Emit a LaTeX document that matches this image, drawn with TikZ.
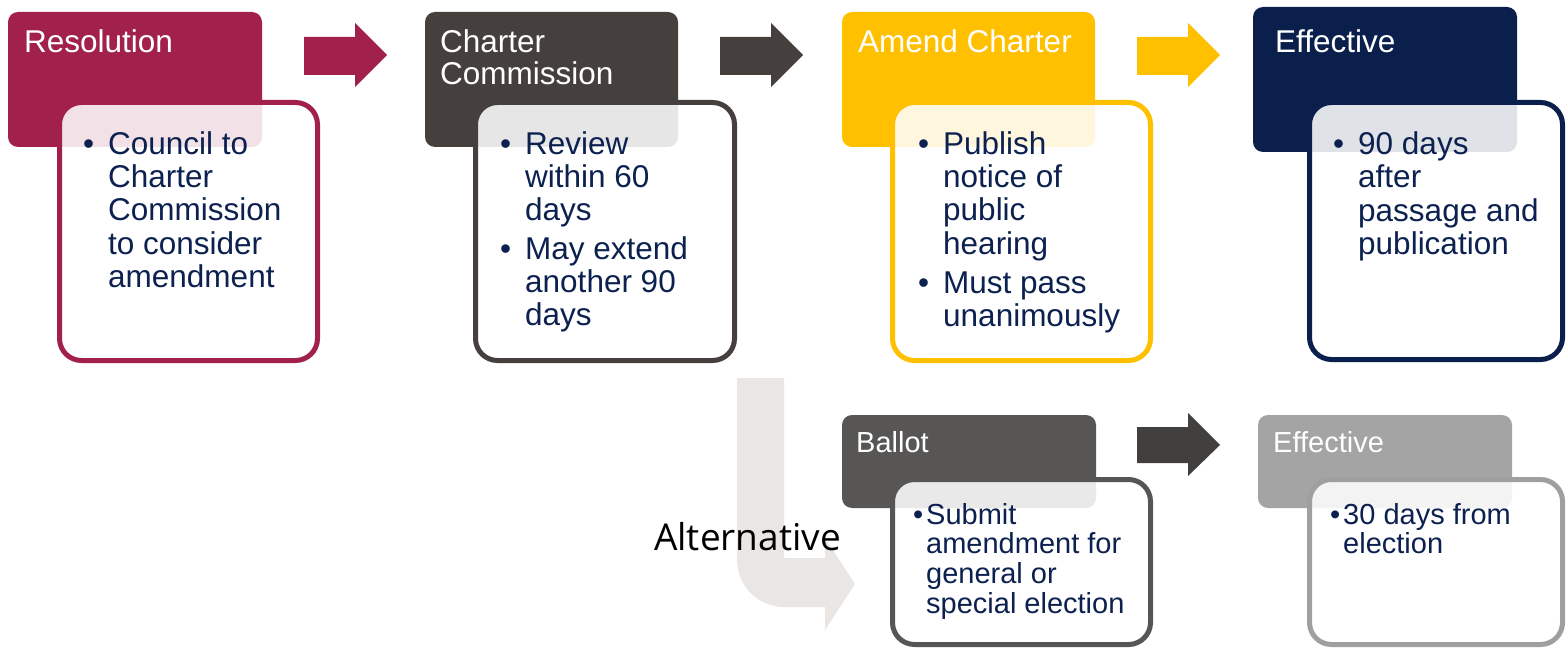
\documentclass[tikz,border=0pt]{standalone}
\usepackage{fontspec}
\setmainfont{Liberation Sans}
\newfontfamily\altfont{Open Sans}
\definecolor{burg}{HTML}{A2214C}
\definecolor{charc}{HTML}{45403E}
\definecolor{gold}{HTML}{FFC000}
\definecolor{navy}{HTML}{0A1F4B}
\definecolor{ballotgray}{HTML}{575655}
\definecolor{lightgray}{HTML}{A5A4A4}
\definecolor{lightborder}{HTML}{A09F9F}
\definecolor{altgray}{HTML}{EAE6E3}
\definecolor{bodytext}{HTML}{0C214F}
\definecolor{darkarrow}{HTML}{42403E}
\tikzset{
  hdr/.style={fill=#1, rounded corners=10pt},
  bodybox/.style={draw=#1, line width=5pt, fill=white, fill opacity=0.87, rounded corners=22pt},
  blockarrow/.style={fill=#1},
  htext/.style={inner sep=0pt, text=white, font=\fontsize{31.5}{32}\selectfont},
  htextsm/.style={inner sep=0pt, text=white, font=\fontsize{29}{30}\selectfont},
  btext/.style={inner sep=0pt, text=bodytext},
}
\newcommand{\bitem}[1]{\noindent\makebox[25pt][l]{\textbullet}\parbox[t]{220pt}{\raggedright #1}\par}
\newcommand{\bitemsm}[1]{\noindent\makebox[13pt][l]{\textbullet}\parbox[t]{220pt}{\raggedright #1}\par}
\begin{document}
\begin{tikzpicture}[x=1pt,y=-1pt]
\useasboundingbox (0,0) rectangle (1566,650);

% ---------- column 1: Resolution ----------
\fill[hdr=burg] (8,12) rectangle (262,147);
\path[bodybox=burg] (59.5,102.5) rectangle (317.5,360.5);
\node[htext, anchor=base west] (t1) at (24,53) {Resolution};
\node[btext, anchor=base west] (b1) at (83,154) {\parbox[t]{250pt}{\fontsize{31.5}{33.4}\selectfont
  \bitem{Council to\\Charter\\Commission\\to consider\\amendment}}};

% arrow 1
\fill[blockarrow=burg] (304,37) -- (355,37) -- (355,23) -- (387,55) -- (355,87) -- (355,75) -- (304,75) -- cycle;

% ---------- column 2: Charter Commission ----------
\fill[hdr=charc] (425,12) rectangle (678,147);
\path[bodybox=charc] (475.5,102.5) rectangle (734.5,360.5);
\node[htext, anchor=base west] (t2) at (440,53) {\parbox[t]{240pt}{\fontsize{31.5}{32}\selectfont Charter\\Commission}};
\node[btext, anchor=base west] (b2) at (500,154) {\parbox[t]{250pt}{\fontsize{31.5}{33.4}\selectfont
  \bitem{Review\\within 60\\days}\vspace{8pt}
  \bitem{May extend\\another 90\\days}}};

% arrow 2
\fill[blockarrow=charc] (720,37) -- (771,37) -- (771,23) -- (803,55) -- (771,87) -- (771,75) -- (720,75) -- cycle;

% ---------- column 3: Amend Charter ----------
\fill[hdr=gold] (842,12) rectangle (1095,147);
\path[bodybox=gold] (892.5,102.5) rectangle (1150.5,360.5);
\node[htext, anchor=base west] (t3) at (858,53) {Amend Charter};
\node[btext, anchor=base west] (b3) at (918,154) {\parbox[t]{250pt}{\fontsize{31.5}{33.4}\selectfont
  \bitem{Publish\\notice of\\public\\hearing}\vspace{10pt}
  \bitem{Must pass\\unanimously}}};

% arrow 3
\fill[blockarrow=gold] (1137,37) -- (1188,37) -- (1188,23) -- (1220,55) -- (1188,87) -- (1188,75) -- (1137,75) -- cycle;

% ---------- column 4: Effective ----------
\fill[hdr=navy] (1253,7) rectangle (1517,152);
\path[bodybox=navy] (1309.5,102.5) rectangle (1562.5,359.5);
\node[htext, anchor=base west] (t4) at (1275,53) {Effective};
\node[btext, anchor=base west] (b4) at (1333,154) {\parbox[t]{250pt}{\fontsize{31.5}{33.6}\selectfont
  \bitem{90 days\\after\\passage and\\publication}}};

% ---------- alternative bent arrow ----------
\fill[altgray] (737,378) -- (784,378) -- (784,558) -- (825,558) -- (825,538) -- (855,584) -- (825,630) -- (825,607) -- (784,607)
  .. controls (758,607) and (737,586) .. (737,560) -- cycle;
\node[inner sep=0pt, anchor=base west, font=\altfont\fontsize{37}{40}\selectfont, text=black] (alt) at (654,550) {Alternative};

% ---------- Ballot ----------
\fill[hdr=ballotgray] (842,415) rectangle (1096,508);
\path[bodybox=ballotgray] (892.5,479.5) rectangle (1150.5,644.5);
\node[htextsm, anchor=base west] (t5) at (856,452) {Ballot};
\node[btext, anchor=base west] (b5) at (913,524) {\parbox[t]{250pt}{\fontsize{29}{29.7}\selectfont
  \bitemsm{Submit\\amendment for\\general or\\special election}}};

% bottom arrow
\fill[blockarrow=darkarrow] (1137,427) -- (1188,427) -- (1188,413) -- (1220,445) -- (1188,476) -- (1188,463) -- (1137,463) -- cycle;

% ---------- Effective (bottom) ----------
\fill[hdr=lightgray] (1258,415) rectangle (1512,508);
\path[bodybox=lightborder] (1309.5,479.5) rectangle (1562.5,644.5);
\node[htextsm, anchor=base west] (t6) at (1273,452) {Effective};
\node[btext, anchor=base west] (b6) at (1330,524) {\parbox[t]{230pt}{\fontsize{29}{29.7}\selectfont
  \bitemsm{30 days from\\election}}};
\end{tikzpicture}
\end{document}
